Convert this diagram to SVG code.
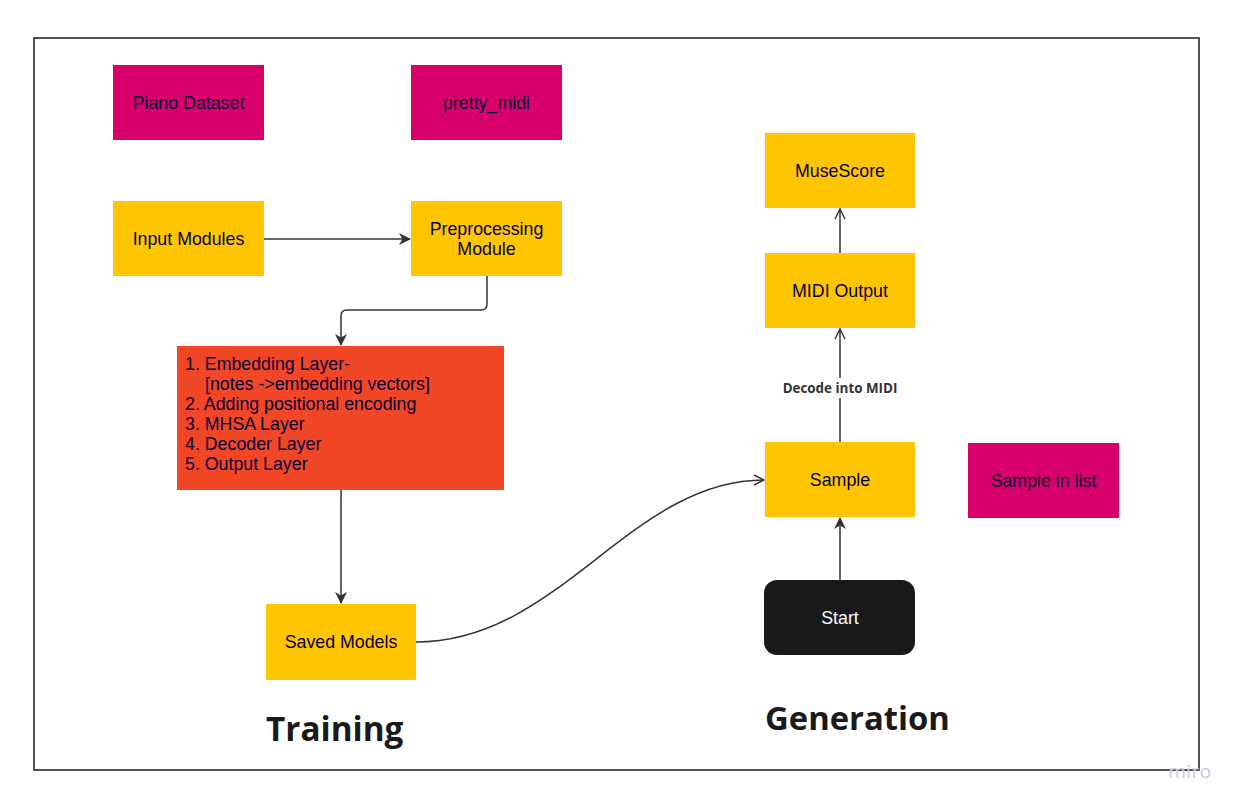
<svg xmlns="http://www.w3.org/2000/svg" width="1238" height="807" viewBox="0 0 1238 807">
<defs>
<style>
.lbl{font-family:"Liberation Sans",Arial,sans-serif;font-size:17.8px;fill:#050038;text-anchor:middle}
.mag{fill:#D8006A}
.yel{fill:#FFC600}
.red{fill:#F24726}
.edge{fill:none;stroke:#333333;stroke-width:1.5}
.title{font-family:"Open Sans",sans-serif;font-weight:bold;fill:#1a1a1a}
</style>
<marker id="fill" viewBox="0 0 12 12" refX="11" refY="6" markerWidth="12" markerHeight="12" markerUnits="userSpaceOnUse" orient="auto">
<path d="M0,0 L12,6 L0,12 L3.5,6 Z" fill="#333333"/>
</marker>
<marker id="open" viewBox="0 0 12 12" refX="11" refY="6" markerWidth="12" markerHeight="12" markerUnits="userSpaceOnUse" orient="auto">
<path d="M1,1 L11,6 L1,11" fill="none" stroke="#333333" stroke-width="1.5"/>
</marker>
</defs>
<rect width="1238" height="807" fill="#ffffff"/>
<rect x="34" y="38" width="1165" height="732" fill="none" stroke="#1a1a1a" stroke-width="1.5"/>

<g id="connectors">
<path class="edge" d="M264,239 L410,239" marker-end="url(#fill)"/>
<path class="edge" d="M487,276 L487,304 Q487,310 481,310 L347,310 Q341,310 341,316 L341,345" marker-end="url(#fill)"/>
<path class="edge" d="M341,490 L341,603" marker-end="url(#fill)"/>
<path class="edge" d="M416,642 C560,642 630,480 764,480" marker-end="url(#open)"/>
<path class="edge" d="M840,580 L840,518" marker-end="url(#fill)"/>
<path class="edge" d="M840,442 L840,329" marker-end="url(#open)"/>
<path class="edge" d="M840,253 L840,209" marker-end="url(#open)"/>
<rect x="779" y="378" width="122" height="20" fill="#ffffff"/>
<text x="840" y="393" style="font-family:'Open Sans',sans-serif;font-weight:bold;font-size:13.4px;fill:#333333;text-anchor:middle">Decode into MIDI</text>
</g>

<g id="piano-dataset"><rect class="mag" x="113" y="65" width="151" height="75"/><text class="lbl" x="188.5" y="109">Piano Dataset</text></g>
<g id="pretty-midi"><rect class="mag" x="411" y="65" width="151" height="75"/><text class="lbl" x="486.5" y="109">pretty_midi</text></g>
<g id="input-modules"><rect class="yel" x="113" y="201" width="151" height="75"/><text class="lbl" x="188.5" y="245">Input Modules</text></g>
<g id="preprocessing"><rect class="yel" x="411" y="201" width="151" height="75"/><text class="lbl" x="486.5" y="235">Preprocessing</text><text class="lbl" x="486.5" y="255">Module</text></g>
<g id="model-layers"><rect class="red" x="177" y="346" width="327" height="144"/>
<text style="font-family:'Liberation Sans',Arial,sans-serif;font-size:17.8px;fill:#050038">
<tspan x="185" y="369.5">1. Embedding Layer-</tspan>
<tspan x="205" y="389.7">[notes -&gt;embedding vectors]</tspan>
<tspan x="185" y="410">2. Adding positional encoding</tspan>
<tspan x="185" y="430">3. MHSA Layer</tspan>
<tspan x="185" y="450">4. Decoder Layer</tspan>
<tspan x="185" y="470">5. Output Layer</tspan>
</text></g>
<g id="saved-models"><rect class="yel" x="266" y="604" width="150" height="76"/><text class="lbl" x="341" y="648">Saved Models</text></g>
<g id="musescore"><rect class="yel" x="765" y="133" width="150" height="75"/><text class="lbl" x="840" y="177">MuseScore</text></g>
<g id="midi-output"><rect class="yel" x="765" y="253" width="150" height="75"/><text class="lbl" x="840" y="297">MIDI Output</text></g>
<g id="sample"><rect class="yel" x="765" y="442" width="150" height="75"/><text class="lbl" x="840" y="486">Sample</text></g>
<g id="sample-in-list"><rect class="mag" x="968" y="443" width="151" height="75"/><text class="lbl" x="1043.5" y="487">Sample in list</text></g>
<g id="start"><rect x="764" y="580" width="151" height="75" rx="13" fill="#1a1a1a"/><text class="lbl" x="840" y="624" style="fill:#ffffff">Start</text></g>

<text class="title" x="266" y="741" style="font-size:33.3px">Training</text>
<text class="title" x="765" y="730" style="font-size:32.8px">Generation</text>
<text x="1190" y="778" style="font-family:'Open Sans',sans-serif;font-size:19px;letter-spacing:0.5px;fill:#c9cadc;text-anchor:middle">miro</text>
</svg>
